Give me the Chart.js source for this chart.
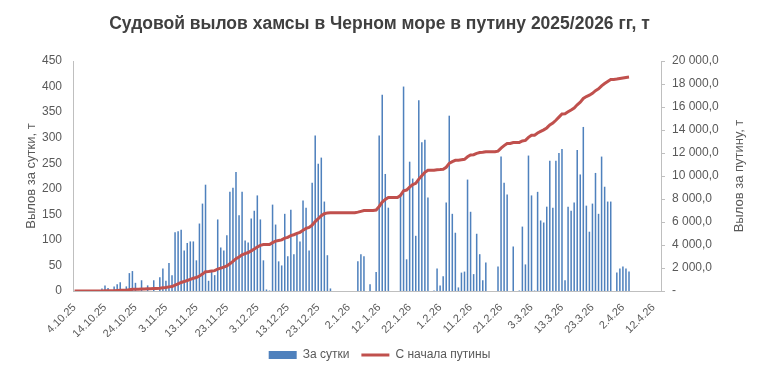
<!DOCTYPE html>
<html>
<head>
<meta charset="utf-8">
<script src="https://cdn.jsdelivr.net/npm/chart.js@4"></script>
<style>
  html,body{margin:0;padding:0;background:#fff}
  #wrap{width:759px;height:371px}
</style>
</head>
<body>
<div id="wrap"><canvas id="catchChart" width="759" height="371"></canvas></div>
<script>
// days from 4.10.25, one category per day
const startDate = new Date(2025, 9, 4);
const dayCount = 193;
const tickEvery = 10;
const tickLabels = ['4.10.25','14.10.25','24.10.25','3.11.25','13.11.25','23.11.25','3.12.25','13.12.25','23.12.25','2.1.26',
  '12.1.26','22.1.26','1.2.26','11.2.26','21.2.26','3.3.26','13.3.26','23.3.26','2.4.26','12.4.26'];

// вылов за сутки, т
const daily = [
  0,0,0,0,0,0,0,0,0,
  5,11,6,0,9,13,17,0,9,35,39,16,0,21,0,11,0,21,0,27,44,20,55,31,
  115,117,120,79,94,97,97,60,132,171,208,20,38,31,140,85,79,109,194,202,233,148,194,99,95,142,157,187,140,
  60,3,1,169,130,58,50,151,68,159,72,112,97,177,163,79,212,304,249,261,175,70,5,
  0,0,0,0,0,0,0,0,
  58,72,68,0,13,0,37,304,384,229,163,
  0,0,0,
  190,400,62,253,220,108,373,291,296,183,
  0,
  1,44,11,29,173,343,151,114,7,36,38,218,155,33,112,72,21,56,
  0,0,0,
  48,263,212,189,
  0,87,0,
  1,126,52,265,187,1,194,138,134,165,255,163,255,270,278,21,165,157,173,276,228,321,167,116,171,231,151,263,204,175,175,
  0,
  36,44,48,44,38
];

// вылов с начала путины, т
const total = [
  0,0,0,0,0,0,0,0,0,
  5,16,22,22,31,44,61,61,70,105,144,160,160,181,181,192,192,213,213,240,284,304,359,390,
  505,622,742,821,915,1012,1109,1169,1301,1472,1680,1700,1738,1769,1909,1994,2073,2182,2376,2578,2811,2959,3153,3252,3347,3489,3646,3833,3973,
  4033,4036,4037,4206,4336,4394,4444,4595,4663,4822,4894,5006,5103,5280,5443,5522,5734,6038,6287,6548,6723,6793,6798,
  6798,6798,6798,6798,6798,6798,6798,6798,
  6856,6928,6996,6996,7009,7009,7046,7350,7734,7963,8126,
  8126,8126,8126,
  8316,8716,8778,9031,9251,9359,9732,10023,10319,10502,
  10502,
  10503,10547,10558,10587,10760,11103,11254,11368,11375,11411,11449,11667,11822,11855,11967,12039,12060,12116,
  12116,12116,12116,
  12164,12427,12639,12828,
  12828,12915,12915,
  12916,13042,13094,13359,13546,13547,13741,13879,14013,14178,14433,14596,14851,15121,15399,15420,15585,15742,15915,16191,16419,16740,16907,17023,17194,17425,17576,17839,18043,18218,18393,
  18393,
  18429,18473,18521,18565,18603
];

const labels = Array.from({length: dayCount}, (_, i) => {
  const d = new Date(startDate);
  d.setDate(d.getDate() + i);
  return d.getDate() + '.' + (d.getMonth() + 1) + '.' + String(d.getFullYear()).slice(2);
});

const grey = '#595959';
const axisLine = '#bfbfbf';
const fontFam = '"Liberation Sans", Arial, sans-serif';
const rightTitle = 'Вылов за путину, т';

const fmtTotal = v => {
  if (v === 0) return '-';
  const s = Math.round(v).toString().replace(/\B(?=(\d{3})+(?!\d))/g, ' ');
  return s + ',0';
};

// right axis title reads bottom-to-top, like the left one
const rightTitlePlugin = {
  id: 'rightTitle',
  afterDraw(chart) {
    const {ctx, chartArea} = chart;
    ctx.save();
    ctx.translate(739, (chartArea.top + chartArea.bottom) / 2);
    ctx.rotate(-Math.PI / 2);
    ctx.fillStyle = grey;
    ctx.font = '13px ' + fontFam;
    ctx.textAlign = 'center';
    ctx.textBaseline = 'middle';
    ctx.fillText(rightTitle, 0, 0);
    ctx.restore();
  }
};

new Chart(document.getElementById('catchChart'), {
  data: {
    labels,
    datasets: [
      {type:'bar', label:'За сутки', data:daily, yAxisID:'y', backgroundColor:'#4f81bd', borderWidth:0,
       barPercentage:0.5, categoryPercentage:1, order:2, pointStyle:'rect'},
      {type:'line', label:'С начала путины', data:total, yAxisID:'y2', borderColor:'#c0504d', backgroundColor:'#c0504d',
       borderWidth:3, pointRadius:0, tension:0, order:1, pointStyle:'line'}
    ]
  },
  options: {
    responsive:false,
    animation:false,
    layout:{padding:{left:0,right:0,top:0,bottom:0}},
    plugins:{
      title:{display:true, text:'Судовой вылов хамсы в Черном море в путину 2025/2026 гг, т',
        color:'#404040', font:{family:fontFam, size:17.5, weight:'bold'}, padding:{top:14, bottom:26}},
      legend:{position:'bottom', labels:{color:grey, font:{family:fontFam, size:12}, usePointStyle:true,
        pointStyleWidth:28, boxHeight:8, padding:12, sort:(a, b) => a.datasetIndex - b.datasetIndex}},
      tooltip:{enabled:false}
    },
    scales:{
      x:{
        grid:{display:false},
        border:{display:true, color:axisLine},
        ticks:{autoSkip:false, maxRotation:45, minRotation:45, color:grey, font:{family:fontFam, size:11}, padding:2,
          callback:(v, i) => i % tickEvery === 0 ? tickLabels[i / tickEvery] : ''},
        afterFit:s => { s.height = 46; }
      },
      y:{
        position:'left', min:0, max:450,
        grid:{display:false},
        border:{display:true, color:axisLine},
        ticks:{stepSize:50, color:grey, font:{family:fontFam, size:12}, padding:3},
        title:{display:true, text:'Вылов за сутки, т', color:grey, font:{family:fontFam, size:13}, padding:{top:24, bottom:0}},
        afterFit:s => { s.width = 73; }
      },
      y2:{
        position:'right', min:0, max:20000,
        grid:{display:true, drawOnChartArea:false, color:axisLine, tickLength:4},
        border:{display:true, color:axisLine},
        ticks:{stepSize:2000, color:grey, font:{family:fontFam, size:12}, padding:7, callback:fmtTotal},
        afterFit:s => { s.width = 98; }
      }
    }
  },
  plugins:[rightTitlePlugin]
});
</script>
</body>
</html>
